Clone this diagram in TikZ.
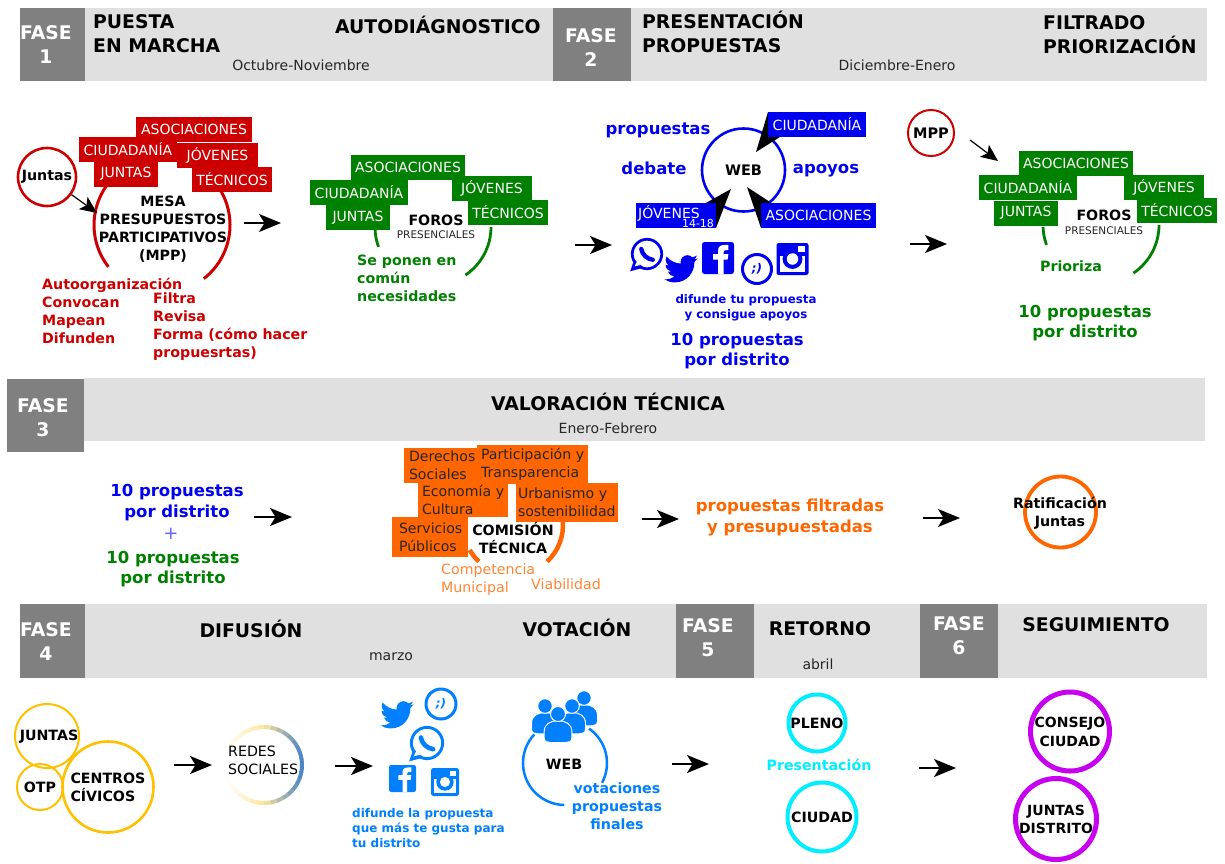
\documentclass[tikz,border=0pt]{standalone}
\usepackage{fontspec}
\setmainfont{DejaVu Sans}
\usetikzlibrary{arrows.meta}
\definecolor{band}{HTML}{E0E0E0}
\definecolor{phase}{HTML}{808080}
\definecolor{cred}{HTML}{CC0000}
\definecolor{cgreen}{HTML}{008000}
\definecolor{cblue}{HTML}{0000F0}
\definecolor{lblue}{HTML}{0080FF}
\definecolor{corange}{HTML}{FF6600}
\definecolor{lorange}{HTML}{FF8533}
\definecolor{amber}{HTML}{FFC000}
\definecolor{ccyan}{HTML}{00EEFF}
\definecolor{cpurple}{HTML}{C800F0}
\definecolor{ryel}{HTML}{FFE699}
\definecolor{rblue}{HTML}{4A86C8}
\newcommand\fs[2]{\fontsize{#1}{#2}\selectfont}
\tikzset{
 bandbox/.style={fill=band,draw=none},
 phasebox/.style={fill=phase,draw=none},
 phasetxt/.style={text=white,font=\fs{18.8}{24}\bfseries,align=center,inner sep=0},
 head/.style={font=\fs{18.8}{24}\bfseries,align=left,inner sep=0,anchor=west},
 headc/.style={font=\fs{18.8}{24}\bfseries,align=center,inner sep=0},
 small/.style={font=\fs{14}{18},inner sep=0,text=black!85},
 flow/.style={draw=black,line width=1.5pt,-{Stealth[length=22pt,width=18pt,inset=5.5pt]}},
 thin flow/.style={draw=black,line width=1.2pt,-{Stealth[length=17pt,width=15pt,inset=4pt]}},
 tag/.style={inner sep=0,minimum width=#1,font=\fs{14}{18},text=white,align=center},
 rtag/.style={tag=#1,fill=cred,minimum height=25pt},
 gtag/.style={tag=#1,fill=cgreen,minimum height=25pt},
 btag/.style={tag=#1,fill=cblue,minimum height=25pt},
 otag/.style={inner sep=0,text width=#1,fill=corange,font=\fs{14.1}{18},text=black!85,align=left},
 lab/.style={font=\fs{14.2}{18}\bfseries,inner sep=0,align=center},
 labl/.style={font=\fs{14.2}{18}\bfseries,inner sep=0,align=left,anchor=west},
 big/.style={font=\fs{16.5}{20.5}\bfseries,inner sep=0,align=center},
 ringnode/.style={circle,draw=#1,inner sep=0,font=\fs{14.2}{18}\bfseries,align=center},
}
% icons
\newcommand\waicon[5]{% name x y r colour
 \begin{scope}[shift={(#2,#3)},scale=#4]
  \draw[#5,line width=0.17*#4 pt] (0,0) circle (0.92);
  \fill[#5] (-0.8,0.35) -- (-1.05,1.08) -- (-0.2,0.85) -- cycle;
  \fill[white] (-0.62,0.45) -- (-0.78,0.78) -- (-0.38,0.68) -- cycle;
  \draw[#5,line width=0.27*#4 pt,line cap=round] (-0.36,-0.32) .. controls (-0.3,0.05) and (0.02,0.32) .. (0.36,0.36);
 \end{scope}}
\newcommand\twicon[4]{% x y scale colour
 \begin{scope}[shift={(#1,#2)},scale=#3,shift={(-12,-12)}]
 \fill[#4] (22.46,6) .. controls (21.69,6.35) and (20.86,6.58) .. (20,6.69)
  .. controls (20.88,6.16) and (21.56,5.32) .. (21.88,4.31)
  .. controls (21.05,4.81) and (20.13,5.16) .. (19.16,5.36)
  .. controls (18.37,4.5) and (17.26,4) .. (16,4)
  .. controls (13.65,4) and (11.73,5.92) .. (11.73,8.29)
  .. controls (11.73,8.63) and (11.77,8.96) .. (11.84,9.27)
  .. controls (8.28,9.09) and (5.11,7.38) .. (3,4.79)
  .. controls (2.63,5.42) and (2.42,6.16) .. (2.42,6.94)
  .. controls (2.42,8.43) and (3.17,9.75) .. (4.33,10.5)
  .. controls (3.62,10.5) and (2.96,10.3) .. (2.38,10) -- (2.38,10.03)
  .. controls (2.38,12.11) and (3.86,13.85) .. (5.82,14.24)
  .. controls (5.2,14.4) and (4.5,14.43) .. (3.89,14.31)
  .. controls (4.45,16.05) and (6.0,17.25) .. (7.89,17.29)
  .. controls (6.44,18.43) and (4.6,19.13) .. (2.56,19.13)
  .. controls (2.22,19.13) and (1.88,19.11) .. (1.54,19.07)
  .. controls (3.44,20.29) and (5.7,21) .. (8.12,21)
  .. controls (16,21) and (20.33,14.46) .. (20.33,8.79)
  .. controls (20.33,8.6) and (20.33,8.42) .. (20.32,8.23)
  .. controls (21.16,7.63) and (21.88,6.87) .. (22.46,6) -- cycle;
 \end{scope}}
\newcommand\fbicon[4]{% x y halfsize colour
 \begin{scope}[shift={(#1,#2)},scale=#3]
  \fill[#4,rounded corners=0.16*#3 pt] (-1,-1) rectangle (1,1);
  \fill[white] (0,1) -- (0,0.1) -- (-0.3,0.1) -- (-0.3,-0.25) -- (0,-0.25) -- (0,-0.45)
   .. controls (0,-0.75) and (0.2,-0.82) .. (0.45,-0.82) -- (0.65,-0.82) -- (0.65,-0.5) -- (0.5,-0.5)
   .. controls (0.4,-0.5) and (0.35,-0.45) .. (0.35,-0.35) -- (0.35,-0.25) -- (0.65,-0.25)
   -- (0.6,0.1) -- (0.35,0.1) -- (0.35,1) -- cycle;
 \end{scope}}
\newcommand\igicon[4]{% x y halfsize colour
 \begin{scope}[shift={(#1,#2)},scale=#3]
  \fill[#4,rounded corners=0.14*#3 pt] (-1,-1) rectangle (1,1);
  \fill[white] (-0.8,-0.2) rectangle (0.8,0.8);
  \fill[#4] (0,0) circle (0.62);
  \fill[white] (0,0) circle (0.36);
  \fill[white] (0.35,-0.8) rectangle (0.75,-0.42);
 \end{scope}}
\newcommand\person[4]{% x yhead r colour
 \fill[#4,draw=white,line width=1pt] (#1-1.85*#3,#2+3.2*#3)
  .. controls (#1-1.85*#3,#2+3.7*#3) and (#1-1.4*#3,#2+3.8*#3) .. (#1-1.0*#3,#2+3.8*#3)
  -- (#1+1.0*#3,#2+3.8*#3)
  .. controls (#1+1.4*#3,#2+3.8*#3) and (#1+1.85*#3,#2+3.7*#3) .. (#1+1.85*#3,#2+3.2*#3)
  -- (#1+1.85*#3,#2+2.4*#3)
  .. controls (#1+1.85*#3,#2+1.3*#3) and (#1+1.0*#3,#2+0.9*#3) .. (#1,#2+0.9*#3)
  .. controls (#1-1.0*#3,#2+0.9*#3) and (#1-1.85*#3,#2+1.3*#3) .. (#1-1.85*#3,#2+2.4*#3)
  -- cycle;
 \fill[#4,draw=white,line width=1pt] (#1,#2) circle (#3);}
\newcommand\ringarc[6]{% style cx cy r start end
 \draw[#1] (#2,#3) ++(#5:#4) arc[start angle=#5,end angle=#6,radius=#4];}
\begin{document}
\begin{tikzpicture}[x=1pt,y=1pt,yscale=-1]
\useasboundingbox (0,0) rectangle (1225,863);
\fill[white] (0,0) rectangle (1225,863);
% ---------- bands
\fill[bandbox] (85,8) rectangle (553,81);
\fill[bandbox] (631,8) rectangle (1207,81);
\fill[phasebox] (20,8) rectangle (85,81);
\fill[phasebox] (553,8) rectangle (631,81);
\fill[bandbox] (84,378) rectangle (1205,441);
\fill[phasebox] (7,379) rectangle (84,452);
\fill[bandbox] (85,604) rectangle (676,678);
\fill[bandbox] (754,604) rectangle (920,678);
\fill[bandbox] (998,604) rectangle (1207,678);
\fill[phasebox] (20,604) rectangle (85,678);
\fill[phasebox] (676,604) rectangle (754,678);
\fill[phasebox] (920,604) rectangle (998,678);
\node[phasetxt] (f1) at (46,45) {FASE\\1};
\node[phasetxt] (f2) at (591,48) {FASE\\2};
\node[phasetxt] (f3) at (43,418) {FASE\\3};
\node[phasetxt] (f4) at (46,642) {FASE\\4};
\node[phasetxt] (f5) at (708,638) {FASE\\5};
\node[phasetxt] (f6) at (959,636) {FASE\\6};
\node[head] (h1) at (93,34) {PUESTA\\EN MARCHA};
\node[head] (h2) at (335,25) {AUTODIÁGNOSTICO};
\node[small] (d1) at (301,65) {Octubre-Noviembre};
\node[head] (h3) at (642,32) {PRESENTACIÓN\\PROPUESTAS};
\node[head] (h4) at (1043,35) {FILTRADO\\PRIORIZACIÓN};
\node[small] (d2) at (897,65) {Diciembre-Enero};
\node[headc] (h5) at (608,402) {VALORACIÓN TÉCNICA};
\node[small] (d3) at (608,428) {Enero-Febrero};
\node[headc] (h6) at (251,629) {DIFUSIÓN};
\node[headc] (h7) at (577,628) {VOTACIÓN};
\node[small] (d4) at (391,657) {marzo};
\node[headc] (h8) at (820,629) {RETORNO};
\node[small] (d5) at (818,664) {abril};
\node[headc] (h9) at (1096,625) {SEGUIMIENTO};
% ---------- MESA
\ringarc{draw=cred,line width=3pt}{162}{225}{68}{216}{142}
\ringarc{draw=cred,line width=3pt}{162}{225}{68}{-32}{52}
\node[rtag=116pt] (ra) at (194,129) {ASOCIACIONES};
\node[rtag=98pt] (rc) at (128,149.5) {CIUDADANÍA};
\node[rtag=81pt] (rj) at (217.5,155) {JÓVENES};
\node[rtag=64pt] (ru) at (126,174) {JUNTAS};
\node[rtag=80pt] (rt) at (232,179.5) {TÉCNICOS};
\node[ringnode=cred,line width=2.6pt,minimum size=58pt,fill=white] (juntas) at (47,177) {Juntas};
\node[lab] (mesa) at (163,229) {MESA\\PRESUPUESTOS\\PARTICIPATIVOS\\(MPP)};
\coordinate (ja) at (97,213);
\draw[thin flow] (juntas) -- (ja);
\coordinate (a1s) at (244,223); \coordinate (a1e) at (281,223);
\draw[flow] (a1s) -- (a1e);
\node[labl,text=cred] (rl1) at (42,310.5) {Autoorganización\\Convocan\\Mapean\\Difunden};
\node[labl,text=cred] (rl2) at (153,327) {Filtra\\Revisa\\Forma (cómo hacer\\propuesrtas)};
% ---------- FOROS 1
\ringarc{draw=cgreen,line width=2.8pt}{433}{227}{58}{0}{56}
\ringarc{draw=cgreen,line width=2.8pt}{433}{227}{58}{178}{160}
\node[gtag=114pt] (ga) at (408,167.5) {ASOCIACIONES};
\node[gtag=98pt] (gc) at (359,192) {CIUDADANÍA};
\node[gtag=80pt] (gj) at (492,188.5) {JÓVENES};
\node[gtag=64pt] (gu) at (358,217.5) {JUNTAS};
\node[gtag=80pt] (gt) at (508,212) {TÉCNICOS};
\node[lab] (foros) at (436,220) {FOROS};
\node[inner sep=0,font=\fs{10.5}{13},text=black!85] (pres) at (436,235) {PRESENCIALES};
\node[labl,text=cgreen] (gl) at (357,278) {Se ponen en\\común\\necesidades};
\coordinate (a2s) at (575,245); \coordinate (a2e) at (612,245);
\draw[flow] (a2s) -- (a2e);
% ---------- WEB
\node[ringnode=cblue,line width=2.6pt,minimum size=83pt,font=\fs{14.5}{17}\bfseries] (web) at (743.5,170) {WEB};
\fill[black] (756,152) -- (768,112) -- (780,137) -- cycle;
\fill[black] (731,189) -- (704,204) -- (716,228) -- cycle;
\fill[black] (747,187) -- (773,204) -- (761,228) -- cycle;
\node[btag=98pt] (bc) at (817,124.5) {CIUDADANÍA};
\node[btag=80pt] (bj) at (676,215.5) {};
\node[inner sep=0,font=\fs{14}{18},text=white] (bj1) at (669,213) {JÓVENES};
\node[inner sep=0,font=\fs{11}{13},text=white] (bj2) at (698,223) {14-18};
\node[btag=115pt] (ba) at (818.5,215.5) {ASOCIACIONES};
\node[big,text=cblue] (w1) at (658,130) {propuestas};
\node[big,text=cblue] (w2) at (654,168) {debate};
\node[big,text=cblue] (w3) at (826,171) {apoyos};
\waicon{wa1}{647}{254}{16}{cblue}
\twicon{681}{268}{1.6}{cblue}
\fbicon{718}{258}{16}{cblue}
\node[circle,draw=cblue,line width=3pt,inner sep=0,minimum size=29pt,text=cblue,font=\fs{12}{13}\bfseries\itshape] (tu1) at (757,269) {;)};
\igicon{792.5}{259}{16}{cblue}
\node[font=\fs{11.8}{15}\bfseries,text=cblue,inner sep=0,align=center] (w4) at (746,307.5) {difunde tu propuesta\\y consigue apoyos};
\node[big,text=cblue] (w5) at (737,351) {10 propuestas\\por distrito};
\coordinate (a3s) at (910,244); \coordinate (a3e) at (947,244);
\draw[flow] (a3s) -- (a3e);
% ---------- FOROS 2
\node[ringnode=cred,line width=2pt,minimum size=46pt,font=\fs{14.5}{17}\bfseries] (mpp) at (931,133) {MPP};
\coordinate (ms) at (970,140); \coordinate (me) at (998,161);
\draw[thin flow] (ms) -- (me);
\ringarc{draw=cgreen,line width=2.8pt}{1101}{225}{58}{0}{56}
\ringarc{draw=cgreen,line width=2.8pt}{1101}{225}{58}{178}{160}
\node[gtag=114pt] (ka) at (1076,163.5) {ASOCIACIONES};
\node[gtag=98pt] (kc) at (1028,187.5) {CIUDADANÍA};
\node[gtag=80pt] (kj) at (1164,187) {JÓVENES};
\node[gtag=64pt] (ku) at (1026,213) {JUNTAS};
\node[gtag=80pt] (kt) at (1177,210.5) {TÉCNICOS};
\node[lab] (foros2) at (1104,215) {FOROS};
\node[inner sep=0,font=\fs{10.5}{13},text=black!85] (pres2) at (1104,231) {PRESENCIALES};
\node[lab,text=cgreen] (kl) at (1071,266) {Prioriza};
\node[big,text=cgreen] (kl2) at (1085,323) {10 propuestas\\por distrito};
% ---------- FASE 3
\node[big,text=cblue] (t1) at (177,502.5) {10 propuestas\\por distrito};
\node[inner sep=0,font=\fs{18}{20},text=cblue!60] (tp) at (171,534) {+};
\node[big,text=cgreen] (t2) at (173,569) {10 propuestas\\por distrito};
\coordinate (a4s) at (254,517); \coordinate (a4e) at (292,517);
\draw[flow] (a4s) -- (a4e);
\ringarc{draw=corange,line width=4.5pt}{513}{525}{50}{-5}{47}
\ringarc{draw=corange,line width=4.5pt}{513}{525}{50}{133}{150}
\node[otag=76pt,minimum height=35pt] (o1) at (442,465.5) {\hspace*{5pt}Derechos\\\hspace*{5pt}Sociales};
\node[otag=111pt,minimum height=39pt] (o2) at (532.5,464.5) {\hspace*{4pt}Participación y\\\hspace*{4pt}Transparencia};
\node[otag=90pt,minimum height=34pt] (o3) at (463,500) {\hspace*{4pt}Economía y\\\hspace*{4pt}Cultura};
\node[otag=102pt,minimum height=39pt] (o4) at (567,502.5) {\hspace*{2pt}Urbanismo y\\\hspace*{2pt}sostenibilidad};
\node[otag=76pt,minimum height=40pt] (o5) at (430,537) {\hspace*{7pt}Servicios\\\hspace*{7pt}Públicos};
\node[lab] (com) at (513,538.5) {COMISIÓN\\TÉCNICA};
\node[inner sep=0,font=\fs{14.2}{18},text=lorange,align=left,anchor=west] (o6) at (441,580) {Competencia\\Municipal};
\node[inner sep=0,font=\fs{14.2}{18},text=lorange,anchor=west] (o7) at (531,584) {Viabilidad};
\coordinate (a5s) at (642,519); \coordinate (a5e) at (679,519);
\draw[flow] (a5s) -- (a5e);
\node[big,text=corange] (o8) at (790,517.5) {propuestas filtradas\\y presupuestadas};
\coordinate (a6s) at (923,518); \coordinate (a6e) at (960,518);
\draw[flow] (a6s) -- (a6e);
\node[ringnode=corange,line width=3.8pt,minimum size=71pt] (rat) at (1060.5,512) {};
\node[lab] (ratt) at (1060,513) {Ratificación\\Juntas};
% ---------- FASE 4
\node[ringnode=amber,line width=2pt,minimum size=64pt] (cj) at (47,736) {};
\node[lab] (cjt) at (49,737) {JUNTAS};
\node[ringnode=amber,line width=2pt,minimum size=46pt] (co) at (40,787) {OTP};
\node[ringnode=amber,line width=2.6pt,minimum size=91pt,align=left] (cc) at (108,787) {CENTROS\\CÍVICOS};
\coordinate (a7s) at (174,765); \coordinate (a7e) at (212,765);
\draw[flow] (a7s) -- (a7e);
\foreach \a in {0,10,...,350}{
 \pgfmathsetmacro\tt{(1+cos(\a+5))/2}
 \pgfmathsetmacro\pa{min(100,200*\tt)}
 \pgfmathsetmacro\pb{100-max(0,200*\tt-100)}
 \draw[line width=4pt,draw={ryel!\pa!white!\pb!rblue}] (264,765) ++(\a:38) arc[start angle=\a,end angle=\a+11,radius=38];
}
\node[inner sep=0,font=\fs{14.2}{18},align=left,anchor=west] (rs) at (228,760) {REDES\\SOCIALES};
\coordinate (a8s) at (335,766); \coordinate (a8e) at (373,766);
\draw[flow] (a8s) -- (a8e);
\twicon{397}{714}{1.6}{lblue}
\node[circle,draw=lblue,line width=3pt,inner sep=0,minimum size=30pt,text=lblue,font=\fs{12}{13}\bfseries\itshape] (tu2) at (441,704) {;)};
\waicon{wa2}{427}{743}{17}{lblue}
\fbicon{402.5}{778.5}{13.5}{lblue}
\igicon{445}{782}{14}{lblue}
\node[font=\fs{12}{15}\bfseries,text=lblue,inner sep=0,align=left,anchor=west] (v1) at (352,828) {difunde la propuesta\\que más te gusta para\\tu distrito};
\ringarc{draw=lblue,line width=2.5pt}{565}{763}{42}{223}{91}
\ringarc{draw=lblue,line width=2.5pt}{565}{763}{42}{-55}{28}
\person{584}{698}{7.3}{lblue}
\person{545}{706}{7.3}{lblue}
\person{572}{706}{7.3}{lblue}
\person{558}{714}{7.5}{lblue}
\node[lab] (web2) at (564,764) {WEB};
\node[lab,text=lblue] (v2) at (617,806.5) {votaciones\\propuestas\\finales};
\coordinate (a9s) at (672,764); \coordinate (a9e) at (709,764);
\draw[flow] (a9s) -- (a9e);
\node[ringnode=ccyan,line width=4pt,minimum size=57pt] (pl) at (817,723) {PLENO};
\node[lab,text=ccyan] (pr) at (819,765) {Presentación};
\node[ringnode=ccyan,line width=4pt,minimum size=69pt] (ci) at (822,817) {CIUDAD};
\coordinate (a10s) at (919,768); \coordinate (a10e) at (956,768);
\draw[flow] (a10s) -- (a10e);
\node[ringnode=cpurple,line width=5pt,minimum size=79pt,font=\fs{14}{19}\bfseries] (cs) at (1070,731.5) {CONSEJO\\CIUDAD};
\node[ringnode=cpurple,line width=5pt,minimum size=81pt,font=\fs{14}{18}\bfseries] (jd) at (1056,819) {JUNTAS\\DISTRITO};
\end{tikzpicture}
\end{document}
